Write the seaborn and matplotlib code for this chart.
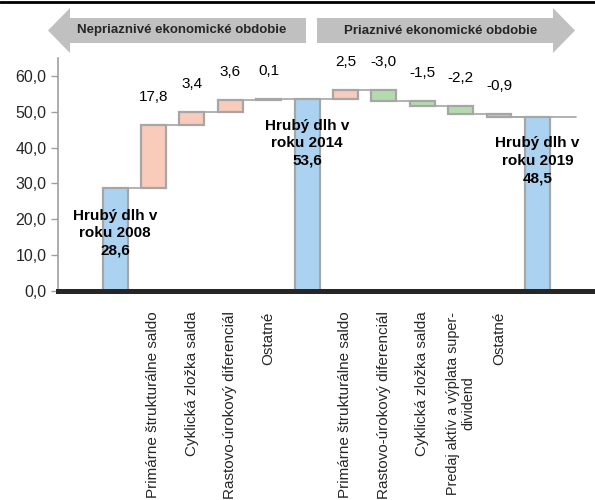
import matplotlib
matplotlib.use("Agg")
import matplotlib.pyplot as plt
import seaborn as sns
import pandas as pd
from matplotlib.patches import Polygon
from matplotlib.lines import Line2D

# ---------------- data ----------------
tick_labels = ["", "", "Primárne štrukturálne saldo", "Cyklická zložka salda",
               "Rastovo-úrokový diferenciál", "Ostatné", "",
               "Primárne štrukturálne saldo", "Rastovo-úrokový diferenciál",
               "Cyklická zložka salda", "Predaj aktív a výplata super-\ndividend",
               "Ostatné", "", ""]
kinds = ["", "total", "change", "change", "change", "change", "total",
         "change", "change", "change", "change", "change", "total", ""]
values = [None, 28.6, 17.8, 3.4, 3.6, 0.1, 53.6, 2.5, -3.0, -1.5, -2.2, -0.9, 48.5, None]
total_years = {1: "2008", 6: "2014", 12: "2019"}
banner_left = "Nepriaznivé ekonomické obdobie"
banner_right = "Priaznivé ekonomické obdobie"
yticks = [0, 10, 20, 30, 40, 50, 60]

# ---------------- style ----------------
sns.set_theme(style="white")
plt.rcParams['font.family'] = ['Liberation Sans', 'DejaVu Sans']

BLUE = "#abd3f1"
PINK = "#f8cbbb"
GREEN = "#b4dbad"
EDGE = "#a6a6a6"

def fmt(v):
    return f"{v:.1f}".replace(".", ",")

# build waterfall table
ids = [f"c{i}" for i in range(len(values))]
rows = []
level = 0.0
levels = {}
for i, (k, v) in enumerate(zip(kinds, values)):
    if v is None:
        continue
    if k == "total":
        bottom, height, level = 0.0, v, v
        kind = "total"
    else:
        bottom = level if v > 0 else level + v
        height = abs(v)
        level = level + v
        kind = "up" if v > 0 else "down"
    levels[i] = level
    rows.append(dict(id=ids[i], pos=i, bottom=bottom, height=height, kind=kind, value=v))
df = pd.DataFrame(rows)

fig = plt.figure(figsize=(5.95, 5.0), dpi=100)
ax = fig.add_axes([57.5 / 595, 1 - 290.7 / 500, 1 - 57.5 / 595, (290.7 - 58) / 500])

W = 0.65
palette = {"total": BLUE, "up": PINK, "down": GREEN}
for kind, col in palette.items():
    sub = df[df["kind"] == kind].sort_values("pos")
    sns.barplot(data=sub, x="id", y="height", order=ids, bottom=sub["bottom"].values,
                color=col, saturation=1, edgecolor=EDGE, linewidth=1.6, width=W,
                errorbar=None, ax=ax, zorder=3)

# connectors
positions = sorted(levels)
for a, b in zip(positions[:-1], positions[1:]):
    ax.plot([a + W / 2, b - W / 2], [levels[a], levels[a]], color=EDGE, lw=1.2, zorder=2)
last = positions[-1]
ax.plot([positions[-2] + W / 2, last + 1], [levels[positions[-2]]] * 2, color=EDGE, lw=1.2, zorder=2)

# labels for changes
for _, r in df.iterrows():
    if r["kind"] == "total":
        continue
    top = r["bottom"] + r["height"]
    ax.text(r["pos"], top + 7.8, fmt(r["value"]), ha="center", va="center",
            fontsize=11, color="black")

# labels for totals
total_label_y = {1: 16.1, 6: 41.3, 12: 36.3}
for i, yr in total_years.items():
    ax.text(i, total_label_y[i], f"Hrubý dlh v\nroku {yr}\n{fmt(values[i])}",
            ha="center", va="center", fontsize=11, fontweight="bold",
            linespacing=1.3, color="black", zorder=5)

ax.set_xlim(-0.5, 13.5)
ax.set_ylim(0, 65)
ax.set_yticks(yticks)
ax.set_yticklabels([fmt(t) for t in yticks], fontsize=11.5)
ax.set_xticks(range(len(tick_labels)))
ax.set_xticklabels(tick_labels, rotation=90, fontsize=11, va="top", ha="center",
                   multialignment="center")
for lab in ax.get_xticklabels():
    if "\n" in lab.get_text():
        lab.set_fontsize(10.4)
ax.tick_params(axis="x", length=0, pad=15)
ax.tick_params(axis="y", length=5, width=1, color="#a0a0a0", direction="out", pad=3, left=True)
ax.set_xlabel("")
ax.set_ylabel("")
for s in ["top", "right"]:
    ax.spines[s].set_visible(False)
ax.spines["left"].set_color("#a0a0a0")
ax.spines["left"].set_linewidth(1.2)
ax.spines["bottom"].set_color("#262626")
ax.spines["bottom"].set_linewidth(3.6)
ax.spines["bottom"].set_zorder(6)

# banners
def px(x, y):
    return (x / 595, 1 - y / 500)

GREY = "#c0c0c0"
yc, bt, bb, ht, hb = 30.5, 18, 43, 8, 53
left_arrow = [px(48, yc), px(70, ht), px(70, bt), px(306, bt), px(306, bb), px(70, bb), px(70, hb)]
right_arrow = [px(317, bt), px(553, bt), px(553, ht), px(575, yc), px(553, hb), px(553, bb), px(317, bb)]
for pts in (left_arrow, right_arrow):
    fig.add_artist(Polygon(pts, closed=True, facecolor=GREY, edgecolor="none",
                           transform=fig.transFigure))
fig.text(*px(182, yc), banner_left, ha="center", va="center", fontsize=9.5, fontweight="bold")
fig.text(*px(441, yc), banner_right, ha="center", va="center", fontsize=9.5, fontweight="bold")
fig.add_artist(Line2D([0, 1], [1 - 2 / 500] * 2, color="black", lw=2, transform=fig.transFigure))

fig.savefig("out.png", dpi=100)
